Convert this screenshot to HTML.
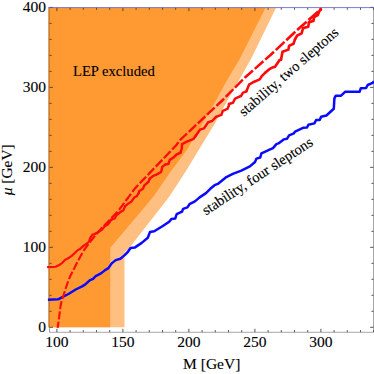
<!DOCTYPE html>
<html><head><meta charset="utf-8"><style>
html,body{margin:0;padding:0;background:#fff;}
svg{display:block;}
text{font-family:"Liberation Serif",serif;fill:#000;stroke:#000;stroke-width:0.12px;}
</style></head><body>
<svg width="374" height="374" viewBox="0 0 374 374">
<rect width="374" height="374" fill="#fff"/>
<polygon points="48.0,7.7 276.0,7.7 253.0,55.0 250.4,60.0 229.7,96.4 227.7,100.0 214.0,125.0 198.7,150.0 185.0,172.4 170.4,195.0 166.7,200.0 155.0,215.0 128.4,249.1 124.5,252.2 124.5,327.3 48.0,327.3" fill="#ffbf80"/>
<polygon points="48.0,7.7 265.6,7.7 241.7,55.0 239.1,60.0 226.6,81.1 221.6,90.0 216.3,100.0 201.8,125.0 186.8,150.0 170.0,172.5 154.5,195.0 146.4,205.0 133.7,220.0 116.9,240.0 110.3,247.8 110.2,327.3 48.0,327.3" fill="#ff9a33"/>
<g stroke="#3a3a3a" stroke-width="0.85" fill="none">
<rect x="49.5" y="7.7" width="324.0" height="324.5" stroke="#808080" stroke-width="0.7"/>
<line x1="56.90" y1="332.2" x2="56.90" y2="328.8"/><line x1="56.90" y1="7.7" x2="56.90" y2="11.1"/><line x1="70.10" y1="332.2" x2="70.10" y2="330.09999999999997"/><line x1="70.10" y1="7.7" x2="70.10" y2="9.8"/><line x1="83.30" y1="332.2" x2="83.30" y2="330.09999999999997"/><line x1="83.30" y1="7.7" x2="83.30" y2="9.8"/><line x1="96.50" y1="332.2" x2="96.50" y2="330.09999999999997"/><line x1="96.50" y1="7.7" x2="96.50" y2="9.8"/><line x1="109.70" y1="332.2" x2="109.70" y2="330.09999999999997"/><line x1="109.70" y1="7.7" x2="109.70" y2="9.8"/><line x1="122.90" y1="332.2" x2="122.90" y2="328.8"/><line x1="122.90" y1="7.7" x2="122.90" y2="11.1"/><line x1="136.10" y1="332.2" x2="136.10" y2="330.09999999999997"/><line x1="136.10" y1="7.7" x2="136.10" y2="9.8"/><line x1="149.30" y1="332.2" x2="149.30" y2="330.09999999999997"/><line x1="149.30" y1="7.7" x2="149.30" y2="9.8"/><line x1="162.50" y1="332.2" x2="162.50" y2="330.09999999999997"/><line x1="162.50" y1="7.7" x2="162.50" y2="9.8"/><line x1="175.70" y1="332.2" x2="175.70" y2="330.09999999999997"/><line x1="175.70" y1="7.7" x2="175.70" y2="9.8"/><line x1="188.90" y1="332.2" x2="188.90" y2="328.8"/><line x1="188.90" y1="7.7" x2="188.90" y2="11.1"/><line x1="202.10" y1="332.2" x2="202.10" y2="330.09999999999997"/><line x1="202.10" y1="7.7" x2="202.10" y2="9.8"/><line x1="215.30" y1="332.2" x2="215.30" y2="330.09999999999997"/><line x1="215.30" y1="7.7" x2="215.30" y2="9.8"/><line x1="228.50" y1="332.2" x2="228.50" y2="330.09999999999997"/><line x1="228.50" y1="7.7" x2="228.50" y2="9.8"/><line x1="241.70" y1="332.2" x2="241.70" y2="330.09999999999997"/><line x1="241.70" y1="7.7" x2="241.70" y2="9.8"/><line x1="254.90" y1="332.2" x2="254.90" y2="328.8"/><line x1="254.90" y1="7.7" x2="254.90" y2="11.1"/><line x1="268.10" y1="332.2" x2="268.10" y2="330.09999999999997"/><line x1="268.10" y1="7.7" x2="268.10" y2="9.8"/><line x1="281.30" y1="332.2" x2="281.30" y2="330.09999999999997"/><line x1="281.30" y1="7.7" x2="281.30" y2="9.8"/><line x1="294.50" y1="332.2" x2="294.50" y2="330.09999999999997"/><line x1="294.50" y1="7.7" x2="294.50" y2="9.8"/><line x1="307.70" y1="332.2" x2="307.70" y2="330.09999999999997"/><line x1="307.70" y1="7.7" x2="307.70" y2="9.8"/><line x1="320.90" y1="332.2" x2="320.90" y2="328.8"/><line x1="320.90" y1="7.7" x2="320.90" y2="11.1"/><line x1="334.10" y1="332.2" x2="334.10" y2="330.09999999999997"/><line x1="334.10" y1="7.7" x2="334.10" y2="9.8"/><line x1="347.30" y1="332.2" x2="347.30" y2="330.09999999999997"/><line x1="347.30" y1="7.7" x2="347.30" y2="9.8"/><line x1="360.50" y1="332.2" x2="360.50" y2="330.09999999999997"/><line x1="360.50" y1="7.7" x2="360.50" y2="9.8"/><line x1="373.70" y1="332.2" x2="373.70" y2="330.09999999999997"/><line x1="373.70" y1="7.7" x2="373.70" y2="9.8"/><line x1="49.5" y1="327.30" x2="52.9" y2="327.30"/><line x1="373.5" y1="327.30" x2="370.1" y2="327.30"/><line x1="49.5" y1="311.31" x2="51.6" y2="311.31"/><line x1="373.5" y1="311.31" x2="371.4" y2="311.31"/><line x1="49.5" y1="295.31" x2="51.6" y2="295.31"/><line x1="373.5" y1="295.31" x2="371.4" y2="295.31"/><line x1="49.5" y1="279.31" x2="51.6" y2="279.31"/><line x1="373.5" y1="279.31" x2="371.4" y2="279.31"/><line x1="49.5" y1="263.32" x2="51.6" y2="263.32"/><line x1="373.5" y1="263.32" x2="371.4" y2="263.32"/><line x1="49.5" y1="247.33" x2="52.9" y2="247.33"/><line x1="373.5" y1="247.33" x2="370.1" y2="247.33"/><line x1="49.5" y1="231.33" x2="51.6" y2="231.33"/><line x1="373.5" y1="231.33" x2="371.4" y2="231.33"/><line x1="49.5" y1="215.34" x2="51.6" y2="215.34"/><line x1="373.5" y1="215.34" x2="371.4" y2="215.34"/><line x1="49.5" y1="199.34" x2="51.6" y2="199.34"/><line x1="373.5" y1="199.34" x2="371.4" y2="199.34"/><line x1="49.5" y1="183.35" x2="51.6" y2="183.35"/><line x1="373.5" y1="183.35" x2="371.4" y2="183.35"/><line x1="49.5" y1="167.35" x2="52.9" y2="167.35"/><line x1="373.5" y1="167.35" x2="370.1" y2="167.35"/><line x1="49.5" y1="151.36" x2="51.6" y2="151.36"/><line x1="373.5" y1="151.36" x2="371.4" y2="151.36"/><line x1="49.5" y1="135.36" x2="51.6" y2="135.36"/><line x1="373.5" y1="135.36" x2="371.4" y2="135.36"/><line x1="49.5" y1="119.37" x2="51.6" y2="119.37"/><line x1="373.5" y1="119.37" x2="371.4" y2="119.37"/><line x1="49.5" y1="103.37" x2="51.6" y2="103.37"/><line x1="373.5" y1="103.37" x2="371.4" y2="103.37"/><line x1="49.5" y1="87.38" x2="52.9" y2="87.38"/><line x1="373.5" y1="87.38" x2="370.1" y2="87.38"/><line x1="49.5" y1="71.38" x2="51.6" y2="71.38"/><line x1="373.5" y1="71.38" x2="371.4" y2="71.38"/><line x1="49.5" y1="55.39" x2="51.6" y2="55.39"/><line x1="373.5" y1="55.39" x2="371.4" y2="55.39"/><line x1="49.5" y1="39.39" x2="51.6" y2="39.39"/><line x1="373.5" y1="39.39" x2="371.4" y2="39.39"/><line x1="49.5" y1="23.40" x2="51.6" y2="23.40"/><line x1="373.5" y1="23.40" x2="371.4" y2="23.40"/><line x1="49.5" y1="7.40" x2="52.9" y2="7.40"/><line x1="373.5" y1="7.40" x2="370.1" y2="7.40"/>
</g>
<line x1="48.0" y1="7.6" x2="373.5" y2="7.6" stroke="#6464ff" stroke-opacity="0.55" stroke-width="1"/>
<polyline points="47.9,299.7 58.0,299.3 62.8,297.0 69.3,293.5 75.7,289.5 82.1,286.3 85.0,284.6 89.7,280.3 93.0,278.8 95.7,276.1 101.0,273.4 105.1,270.1 108.4,268.1 111.7,263.4 115.7,260.1 120.4,258.7 124.4,255.4 127.8,252.0 130.5,248.0 135.0,247.4 141.4,243.1 147.8,237.8 150.0,232.0 154.2,231.3 162.8,226.0 169.2,221.7 171.3,219.1 175.2,218.5 176.7,214.2 182.0,211.7 183.1,208.9 187.4,207.4 189.5,204.2 194.9,201.4 199.6,197.4 206.0,193.1 210.3,188.8 214.6,185.2 217.8,183.9 226.4,177.1 232.8,173.9 241.3,170.6 249.9,166.4 255.0,162.0 256.5,158.6 260.3,157.5 261.4,153.4 267.0,150.8 268.4,150.1 273.0,148.1 276.4,144.1 278.4,143.4 283.7,139.4 287.1,138.7 289.1,135.4 293.8,133.4 295.1,131.6 303.0,127.8 307.0,127.5 308.4,124.7 314.4,123.4 316.1,120.0 319.7,120.0 321.1,116.8 326.4,115.5 333.8,108.8 334.4,98.4 335.8,95.7 341.1,95.7 345.3,91.7 359.7,91.7 360.8,88.2 366.1,87.9 367.7,85.0 372.6,82.9 374.0,81.3" fill="none" stroke="#0a0aff" stroke-width="2.5" stroke-linejoin="round"/>
<g fill="none" stroke="#ff0a0a" stroke-linejoin="miter" stroke-linecap="round"><polyline stroke-width="2.12" points="47.9,267.1 55.7,266.8 59.7,264.8 62.4,262.8 65.1,259.8 68.4,258.1"/><polyline stroke-width="2.15" points="68.4,258.1 71.7,255.8 75.1,252.8 77.8,250.1 80.0,249.1 83.1,246.1"/><polyline stroke-width="2.19" points="83.1,246.1 87.1,243.4 89.1,241.4 90.2,238.0 92.5,234.7 95.3,233.7"/><polyline stroke-width="2.22" points="95.3,233.7 98.7,231.7 102.0,229.7 104.7,226.3 108.0,224.3 111.4,219.6"/><polyline stroke-width="2.25" points="111.4,219.6 114.7,218.3 116.7,215.0 120.1,212.3 123.4,210.3 125.0,206.3"/><polyline stroke-width="2.28" points="125.0,206.3 128.1,203.6 131.4,201.6 134.1,197.6 136.8,196.2 138.8,192.9"/><polyline stroke-width="2.32" points="138.8,192.9 139.0,191.4 143.0,188.7 144.4,185.3 148.4,182.0 149.7,178.7"/><polyline stroke-width="2.35" points="149.7,178.7 153.0,176.0 156.4,174.6 161.1,172.0 162.4,166.6 165.1,164.6"/><polyline stroke-width="2.38" points="165.1,164.6 168.4,163.9 169.8,159.9 173.8,157.3 176.4,154.6 180.5,152.6"/><polyline stroke-width="2.42" points="180.5,152.6 181.8,148.6 182.0,144.3 186.7,141.7 193.4,139.0 195.4,136.3"/><polyline stroke-width="2.45" points="195.4,136.3 200.1,129.6 204.1,128.3 208.1,122.3 212.1,121.0 216.1,116.9"/><polyline stroke-width="2.48" points="216.1,116.9 221.4,114.9 222.8,110.9 227.5,108.9 228.8,105.6 229.0,104.0"/><polyline stroke-width="2.52" points="229.0,104.0 233.0,102.7 235.0,98.7 241.0,96.0 243.0,92.7 246.4,91.3"/><polyline stroke-width="2.55" points="246.4,91.3 249.1,84.6 253.7,82.0 259.8,79.3 261.8,76.0 265.1,72.8"/><polyline stroke-width="2.58" points="265.1,72.8 269.1,69.4 272.5,67.4 275.0,66.8 279.5,60.2 281.0,59.7"/><polyline stroke-width="2.61" points="281.0,59.7 282.5,51.8 288.4,49.6 289.1,45.9 293.5,43.7 295.0,39.3"/><polyline stroke-width="2.65" points="295.0,39.3 297.2,35.6 301.6,33.4 303.1,28.2 308.2,26.8 309.0,22.3"/><polyline stroke-width="2.68" points="309.0,22.3 313.4,20.9 314.1,17.2 317.8,15.0 319.3,11.3 320.7,9.1"/></g>
<g fill="none" stroke="#ff0a0a" stroke-linejoin="round"><circle cx="320.6" cy="9.5" r="1.5" fill="#ff0a0a" stroke="none"/><path stroke-width="2.10" d="M57.60,327.80 L58.59,321.58"/><path stroke-width="2.10" d="M58.88,319.30 L59.40,315.20 L59.85,311.33"/><path stroke-width="2.11" d="M60.12,309.04 L60.30,307.50 L61.50,301.50 L61.62,301.14"/><path stroke-width="2.11" d="M62.34,298.94 L63.20,296.30 L64.83,291.24"/><path stroke-width="2.12" d="M65.55,289.04 L67.70,282.50 L68.17,281.34"/><path stroke-width="2.12" d="M69.03,279.18 L70.30,276.00 L72.47,271.76"/><path stroke-width="2.13" d="M73.53,269.70 L74.30,268.20 L77.23,262.33"/><path stroke-width="2.14" d="M78.33,260.28 L82.32,253.00"/><path stroke-width="2.15" d="M83.50,250.99 L88.38,244.20"/><path stroke-width="2.16" d="M89.79,242.33 L94.90,235.90 L95.05,235.73"/><path stroke-width="2.17" d="M96.59,233.97 L102.00,227.80 L102.22,227.57"/><path stroke-width="2.18" d="M103.86,225.89 L109.84,219.71"/><path stroke-width="2.19" d="M111.48,218.02 L117.53,211.78"/><path stroke-width="2.20" d="M118.98,209.92 L124.23,202.87"/><path stroke-width="2.21" d="M125.64,200.97 L130.95,193.84"/><path stroke-width="2.23" d="M132.37,191.94 L135.00,188.40 L138.16,185.07"/><path stroke-width="2.24" d="M139.80,183.34 L146.08,176.73"/><path stroke-width="2.26" d="M147.72,175.00 L150.00,172.60 L154.12,168.32"/><path stroke-width="2.27" d="M155.77,166.60 L162.27,159.84"/><path stroke-width="2.29" d="M163.93,158.11 L165.00,157.00 L170.50,151.21"/><path stroke-width="2.31" d="M172.15,149.47 L176.40,145.00 L178.48,142.18"/><path stroke-width="2.33" d="M179.90,140.24 L180.00,140.10 L187.04,133.48"/><path stroke-width="2.35" d="M188.80,131.83 L196.09,124.98"/><path stroke-width="2.37" d="M197.85,123.32 L200.00,121.30 L205.28,116.37"/><path stroke-width="2.40" d="M207.05,114.71 L214.63,107.63"/><path stroke-width="2.42" d="M216.40,105.98 L222.80,100.00 L224.03,98.66"/><path stroke-width="2.45" d="M225.70,96.89 L233.31,89.25"/><path stroke-width="2.47" d="M235.03,87.52 L242.79,79.72"/><path stroke-width="2.50" d="M244.52,77.98 L245.00,77.50 L252.92,70.51"/><path stroke-width="2.53" d="M254.76,68.89 L263.37,61.29"/><path stroke-width="2.56" d="M265.21,59.66 L270.50,55.00 L273.93,51.78"/><path stroke-width="2.60" d="M275.73,50.09 L284.50,41.86"/><path stroke-width="2.63" d="M286.30,40.17 L295.00,32.00 L295.29,31.74"/><path stroke-width="2.67" d="M297.15,30.11 L306.64,21.76"/><path stroke-width="2.71" d="M308.51,20.12 L318.24,11.57"/><path stroke-width="2.75" d="M320.11,9.92 L320.70,9.40"/></g>
<g font-size="15.5px"><text x="56.9" y="347.3" text-anchor="middle">100</text><text x="122.9" y="347.3" text-anchor="middle">150</text><text x="188.9" y="347.3" text-anchor="middle">200</text><text x="254.9" y="347.3" text-anchor="middle">250</text><text x="320.9" y="347.3" text-anchor="middle">300</text><text x="46" y="332.3" text-anchor="end">0</text><text x="46" y="252.3" text-anchor="end">100</text><text x="46" y="172.4" text-anchor="end">200</text><text x="46" y="92.4" text-anchor="end">300</text><text x="46" y="12.4" text-anchor="end">400</text></g>
<text x="73" y="76" font-size="14.6px">LEP excluded</text>
<text transform="translate(244,117) rotate(-41)" font-size="14.6px">stability, two sleptons</text>
<text transform="translate(206,215.5) rotate(-33.3)" font-size="14.6px">stability, four sleptons</text>
<text x="211.7" y="369.3" font-size="15.5px" text-anchor="middle">M [GeV]</text>
<text transform="translate(12,169.8) rotate(-90)" font-size="15.4px" text-anchor="middle"><tspan font-style="italic">μ</tspan> [GeV]</text>
</svg>
</body></html>
